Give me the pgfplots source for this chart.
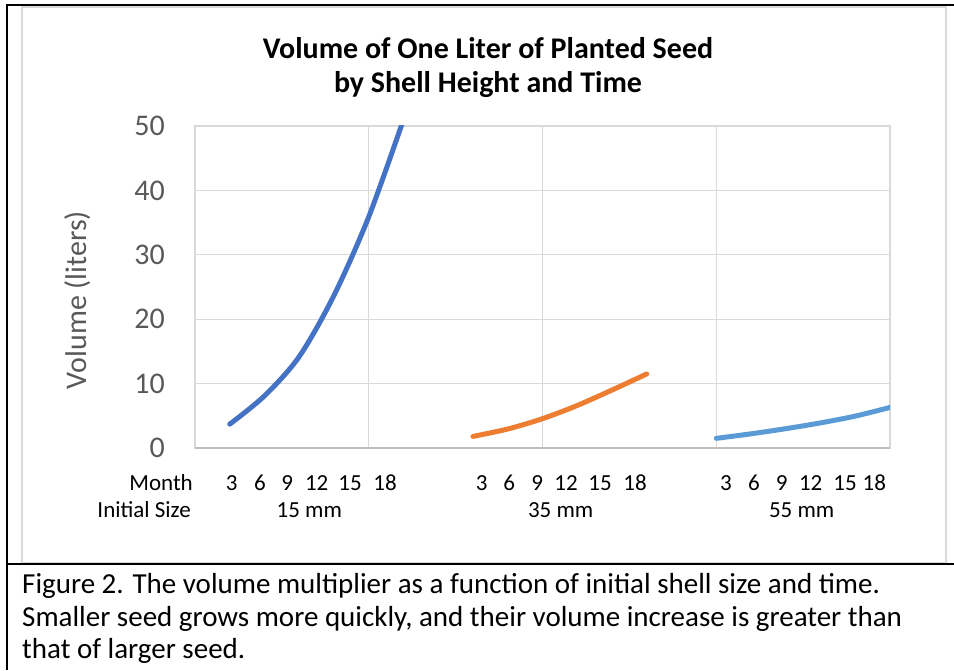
\documentclass[border=0pt]{standalone}
\usepackage{fontspec}
\setmainfont{Carlito}
\usepackage{pgfplots}
\pgfplotsset{compat=1.18}
\definecolor{c1}{HTML}{4472C4}
\definecolor{c2}{HTML}{ED7D31}
\definecolor{c3}{HTML}{5B9BD5}
\definecolor{gridc}{HTML}{D9D9D9}
\definecolor{axc}{HTML}{BFBFBF}
\definecolor{tickc}{HTML}{595959}
\begin{document}
\begin{tikzpicture}[x=1pt,y=1pt]
\useasboundingbox (0,0) rectangle (954,670);
\draw[gridc, line width=1.3pt] (22,107) rectangle (946,663);
\draw[black, line width=1.6pt] (7,0) -- (7,665) -- (954,665);
\draw[black, line width=1.6pt] (7,106) -- (954,106);
\begin{axis}[
  at={(195pt,222pt)}, anchor=south west,
  scale only axis, width=695pt, height=322pt,
  xmin=0, xmax=80, ymin=0, ymax=50,
  xtick={0,20,40,60,80}, xticklabels={},
  ytick={0,10,20,30,40,50},
  grid=major,
  major grid style={gridc, line width=1.3pt},
  axis line style={gridc, line width=1.3pt},
  tick style={draw=none},
  yticklabel style={font=\fontsize{30}{30}\selectfont, text=tickc, inner sep=0pt, xshift=-30pt},
  /pgf/number format/assume math mode=true,
  clip=true,
]
% 15 mm
\addplot[c1, line width=5pt, line cap=round, smooth] coordinates {
(4,3.7) (8,8.1) (12,14.2) (16,23.7) (20,35.9) (24,51.0)};
% 35 mm
\addplot[c2, line width=5pt, line cap=round, smooth] coordinates {
(32,1.8) (36,2.95) (40,4.55) (44,6.6) (48,9.0) (52,11.5)};
% 55 mm
\addplot[c3, line width=5pt, line cap=round, smooth] coordinates {
(60,1.5) (64,2.2) (68,3.0) (72,3.9) (76,4.95) (80,6.3)};
\end{axis}
\draw[axc, line width=1.3pt] (195,222) -- (890,222);
% y label
\node[rotate=90, text=tickc, font=\fontsize{30}{30}\selectfont] at (78,370) {Volume (liters)};
% title
\node[font=\bfseries\fontsize{30}{30}\selectfont] at (488,622) {Volume of One Liter of Planted Seed};
\node[font=\bfseries\fontsize{30}{30}\selectfont] at (488,585) {by Shell Height and Time};
% category labels
\begin{scope}[every node/.style={font=\fontsize{23}{23}\selectfont, inner sep=0pt}]
\node[anchor=east] at (193,187.3) {Month};
\node[anchor=east] at (191,160) {Initial Size};
\foreach \x/\t in {231.7/3,260/6,287.3/9,316.7/12,350/15,385/18,
                   481.7/3,509.3/6,537.3/9,566/12,600/15,635/18,
                   726/3,754/6,781.7/9,810.7/12,845/15,874.3/18}
  \node at (\x,187.3) {\t};
\node at (309.3,160) {15 mm};
\node at (560.7,160) {35 mm};
\node at (801.7,160) {55 mm};
\end{scope}
% caption
\begin{scope}[every node/.style={font=\fontsize{29}{29}\selectfont, inner sep=0pt, anchor=base west}]
\node at (22,76.7) {Figure 2. The volume multiplier as a function of initial shell size and time.};
\node at (22,43.5) {Smaller seed grows more quickly, and their volume increase is greater than};
\node at (22,12) {that of larger seed.};
\end{scope}
\end{tikzpicture}
\end{document}
